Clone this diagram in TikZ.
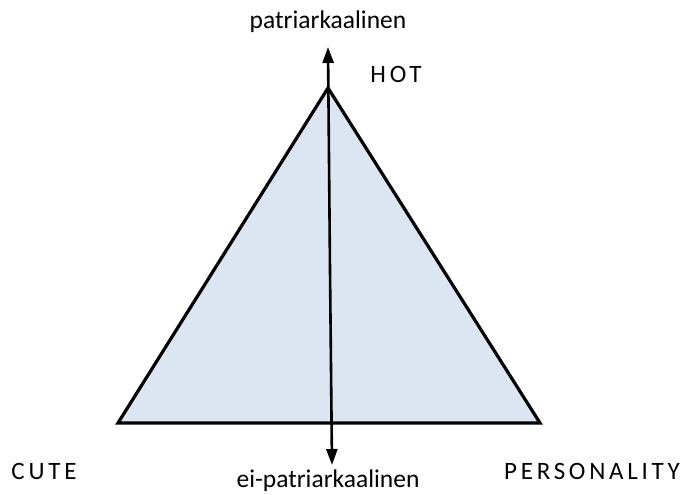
\documentclass[tikz,border=0pt]{standalone}
\usepackage{fontspec}
\setmainfont{Carlito}
\newfontfamily\spaced[LetterSpace=15]{Carlito}
\usetikzlibrary{arrows.meta}
\definecolor{trifill}{HTML}{DCE6F2}
\tikzset{
  lbl/.style={font=\fontsize{25.5}{28}\selectfont, inner sep=0pt},
  caplbl/.style={font=\fontsize{25}{28}\selectfont\spaced, inner sep=0pt},
  axis/.style={line width=2.6pt, -{Triangle[length=16pt,width=11pt]}}
}
\begin{document}
\begin{tikzpicture}[x=1pt,y=-1pt]
\useasboundingbox (0,0) rectangle (683,495);
\coordinate (apex) at (328,88);
\coordinate (bl) at (118,423);
\coordinate (br) at (540,423);
\draw[line width=3.2pt, line join=miter, fill=trifill] (apex) -- (bl) -- (br) -- cycle;
\coordinate (mid) at (330,270);
\coordinate (top) at (328,47);
\coordinate (bot) at (332,465);
\draw[axis] (mid) -- (top);
\draw[axis] (mid) -- (bot);
\node[lbl] (patr) at (328,22) {patriarkaalinen};
\node[lbl] (eipatr) at (328,481) {ei-patriarkaalinen};
\node[caplbl] (hot) at (396,74) {HOT};
\node[caplbl] (cute) at (44,471) {CUTE};
\node[caplbl] (pers) at (592,471) {PERSONALITY};
\end{tikzpicture}
\end{document}
